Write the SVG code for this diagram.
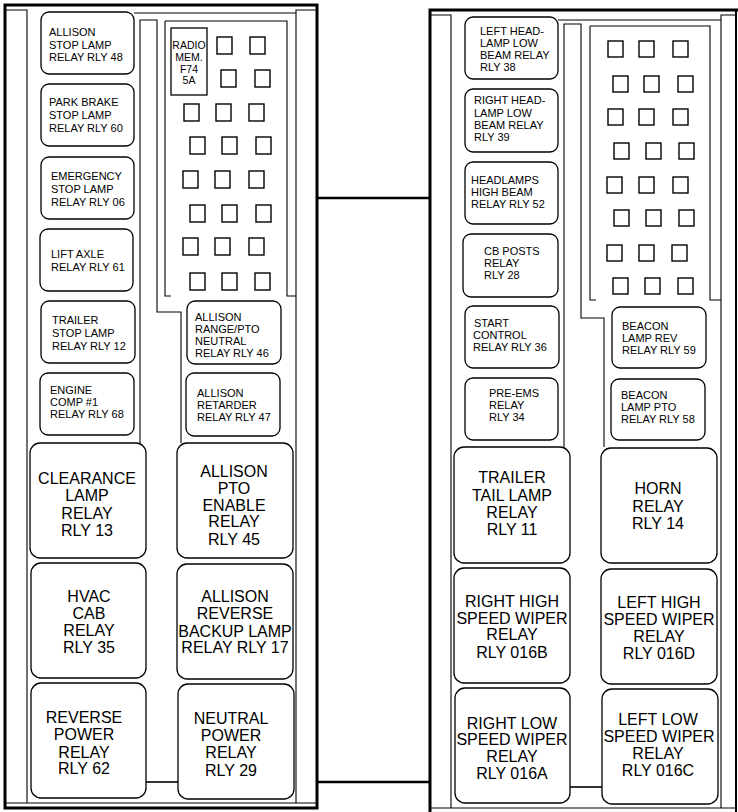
<svg xmlns="http://www.w3.org/2000/svg" width="738" height="812" viewBox="0 0 738 812">
<style>
.bg{fill:#fff}
.frame{fill:none;stroke:#000;stroke-width:3}
.thin{fill:none;stroke:#000;stroke-width:1.1}
.box{fill:#fff;stroke:#000;stroke-width:1.3}
.fuse{fill:#fff;stroke:#000;stroke-width:1.4}
.con{fill:none;stroke:#000;stroke-width:2.4}
.conb{fill:none;stroke:#000;stroke-width:1.6}
text{font-family:"Liberation Sans",Arial,sans-serif;fill:#000}
.s{font-size:11px}
.r{font-size:10.5px;text-anchor:middle}
.b{font-size:16px;text-anchor:middle}
</style>
<defs>
<rect id="fz" width="15" height="17" class="fuse"/>
<rect id="fy" width="15" height="16" class="fuse"/>
</defs>
<rect class="bg" x="0" y="0" width="738" height="812"/>

<g id="left-panel">
<rect class="frame" x="5" y="5" width="312" height="803"/>
<path class="thin" d="M5,803 H317"/>
<path class="thin" d="M5,10 H27 V803"/>
<path class="thin" d="M317,10 H296 V803"/>
<path class="thin" d="M134,13 H296"/>
<path class="thin" d="M140,443 V20 H157 V312 H181 V443"/>
<path class="thin" d="M165,21 V296 H171 M165,21 H287 V296 H296"/>
</g>

<g id="right-panel">
<path class="frame" d="M430,812 V10 H738"/>
<path class="thin" d="M736,10 V812" style="stroke-width:2"/>
<path class="thin" d="M430,808 H736"/>
<path class="thin" d="M430,15 H451 V808"/>
<path class="thin" d="M736,15 H721 V808"/>
<path class="thin" d="M558,20 H721"/>
<path class="thin" d="M564,447 V24 H581 V318 H604 V447"/>
<path class="thin" d="M590,26 V300 H596 M590,26 H710 V300 H721"/>
</g>

<g id="connectors">
<path class="con" d="M317,198 H430"/>
<path class="con" d="M317,782 H430"/>
<path class="conb" d="M146,782 H178"/>
<path class="conb" d="M570,787 H602"/>
</g>

<g id="fuses-left">
<use href="#fz" x="217" y="37"/><use href="#fz" x="250" y="37"/>
<use href="#fz" x="221" y="70"/><use href="#fz" x="255" y="70"/>
<use href="#fz" x="184" y="104"/><use href="#fz" x="216" y="104"/><use href="#fz" x="249" y="104"/>
<use href="#fz" x="190" y="137"/><use href="#fz" x="222" y="137"/><use href="#fz" x="256" y="137"/>
<use href="#fz" x="183" y="171"/><use href="#fz" x="215" y="171"/><use href="#fz" x="249" y="171"/>
<use href="#fz" x="190" y="205"/><use href="#fz" x="222" y="205"/><use href="#fz" x="256" y="205"/>
<use href="#fz" x="183" y="238"/><use href="#fz" x="215" y="238"/><use href="#fz" x="249" y="238"/>
<use href="#fz" x="190" y="273"/><use href="#fz" x="222" y="273"/><use href="#fz" x="255" y="273"/>
</g>

<g id="radio-mem-f74">
<rect class="box" x="171" y="28" width="36" height="67"/>
<text class="r" x="189" y="49">RADIO</text>
<text class="r" x="189" y="61">MEM.</text>
<text class="r" x="189" y="72.5">F74</text>
<text class="r" x="189" y="84">5A</text>
</g>

<g id="fuses-right">
<use href="#fy" x="608" y="41"/><use href="#fy" x="639" y="41"/><use href="#fy" x="673" y="41"/>
<use href="#fy" x="613" y="76"/><use href="#fy" x="644" y="76"/><use href="#fy" x="678" y="76"/>
<use href="#fy" x="608" y="109"/><use href="#fy" x="639" y="109"/><use href="#fy" x="673" y="109"/>
<use href="#fy" x="614" y="143"/><use href="#fy" x="646" y="143"/><use href="#fy" x="679" y="143"/>
<use href="#fy" x="607" y="177"/><use href="#fy" x="639" y="177"/><use href="#fy" x="673" y="177"/>
<use href="#fy" x="614" y="210"/><use href="#fy" x="646" y="210"/><use href="#fy" x="679" y="210"/>
<use href="#fy" x="607" y="245"/><use href="#fy" x="639" y="245"/><use href="#fy" x="672" y="245"/>
<use href="#fy" x="613" y="278"/><use href="#fy" x="645" y="278"/><use href="#fy" x="678" y="278"/>
</g>

<g id="rly48"><rect class="box" x="41" y="12" width="93" height="62" rx="8"/>
<text class="s" x="49" y="36">ALLISON</text><text class="s" x="49" y="48.5">STOP LAMP</text><text class="s" x="49" y="61">RELAY RLY 48</text></g>
<g id="rly60"><rect class="box" x="41" y="84" width="93" height="62" rx="8"/>
<text class="s" x="49" y="106">PARK BRAKE</text><text class="s" x="49" y="119">STOP LAMP</text><text class="s" x="49" y="132">RELAY RLY 60</text></g>
<g id="rly06"><rect class="box" x="41" y="157" width="93" height="62" rx="8"/>
<text class="s" x="51" y="180">EMERGENCY</text><text class="s" x="51" y="192.5">STOP LAMP</text><text class="s" x="51" y="205.5">RELAY RLY 06</text></g>
<g id="rly61"><rect class="box" x="40" y="229" width="93" height="62" rx="8"/>
<text class="s" x="51" y="258">LIFT AXLE</text><text class="s" x="51" y="270.5">RELAY RLY 61</text></g>
<g id="rly12"><rect class="box" x="41" y="301" width="94" height="62" rx="8"/>
<text class="s" x="52" y="324">TRAILER</text><text class="s" x="52" y="337">STOP LAMP</text><text class="s" x="52" y="349.5">RELAY RLY 12</text></g>
<g id="rly68"><rect class="box" x="40" y="373" width="94" height="62" rx="8"/>
<text class="s" x="50" y="394">ENGINE</text><text class="s" x="50" y="406">COMP #1</text><text class="s" x="50" y="418">RELAY RLY 68</text></g>
<g id="rly46"><rect class="box" x="187" y="301" width="94" height="63" rx="8"/>
<text class="s" x="195" y="321">ALLISON</text><text class="s" x="195" y="333">RANGE/PTO</text><text class="s" x="195" y="345">NEUTRAL</text><text class="s" x="195" y="357">RELAY RLY 46</text></g>
<g id="rly47"><rect class="box" x="186" y="373" width="94" height="63" rx="8"/>
<text class="s" x="197" y="397">ALLISON</text><text class="s" x="197" y="409">RETARDER</text><text class="s" x="197" y="421">RELAY RLY 47</text></g>

<g id="rly13"><rect class="box" x="30" y="443" width="116" height="115" rx="10"/>
<text class="b" x="87" y="483.5">CLEARANCE</text><text class="b" x="87" y="501">LAMP</text><text class="b" x="87" y="518.5">RELAY</text><text class="b" x="87" y="536">RLY 13</text></g>
<g id="rly35"><rect class="box" x="31" y="563" width="115" height="115" rx="10"/>
<text class="b" x="89" y="601.5">HVAC</text><text class="b" x="89" y="619">CAB</text><text class="b" x="89" y="636">RELAY</text><text class="b" x="89" y="653">RLY 35</text></g>
<g id="rly62"><rect class="box" x="31" y="683" width="115" height="115" rx="10"/>
<text class="b" x="84" y="723">REVERSE</text><text class="b" x="84" y="740">POWER</text><text class="b" x="84" y="757.5">RELAY</text><text class="b" x="84" y="774">RLY 62</text></g>
<g id="rly45"><rect class="box" x="177" y="443" width="116" height="115" rx="10"/>
<text class="b" x="234" y="476.5">ALLISON</text><text class="b" x="234" y="493.5">PTO</text><text class="b" x="234" y="510.5">ENABLE</text><text class="b" x="234" y="527">RELAY</text><text class="b" x="234" y="544.5">RLY 45</text></g>
<g id="rly17"><rect class="box" x="177" y="564" width="116" height="115" rx="10"/>
<text class="b" x="235" y="601.5">ALLISON</text><text class="b" x="235" y="619">REVERSE</text><text class="b" x="235" y="636.5">BACKUP LAMP</text><text class="b" x="235" y="653">RELAY RLY 17</text></g>
<g id="rly29"><rect class="box" x="178" y="684" width="116" height="115" rx="10"/>
<text class="b" x="231" y="723.5">NEUTRAL</text><text class="b" x="231" y="740.5">POWER</text><text class="b" x="231" y="757.5">RELAY</text><text class="b" x="231" y="775.5">RLY 29</text></g>

<g id="rly38"><rect class="box" x="465" y="17" width="93" height="62" rx="8"/>
<text class="s" x="480" y="35">LEFT HEAD-</text><text class="s" x="480" y="47">LAMP LOW</text><text class="s" x="480" y="59">BEAM RELAY</text><text class="s" x="480" y="71">RLY 38</text></g>
<g id="rly39"><rect class="box" x="465" y="89" width="93" height="63" rx="8"/>
<text class="s" x="474" y="104">RIGHT HEAD-</text><text class="s" x="474" y="116.5">LAMP LOW</text><text class="s" x="474" y="129">BEAM RELAY</text><text class="s" x="474" y="141">RLY 39</text></g>
<g id="rly52"><rect class="box" x="465" y="162" width="93" height="62" rx="8"/>
<text class="s" x="471" y="184">HEADLAMPS</text><text class="s" x="471" y="196">HIGH BEAM</text><text class="s" x="471" y="208">RELAY RLY 52</text></g>
<g id="rly28"><rect class="box" x="463" y="234" width="95" height="63" rx="8"/>
<text class="s" x="484" y="255">CB POSTS</text><text class="s" x="484" y="267">RELAY</text><text class="s" x="484" y="279">RLY 28</text></g>
<g id="rly36"><rect class="box" x="465" y="306" width="94" height="62" rx="8"/>
<text class="s" x="474" y="327">START</text><text class="s" x="473" y="339">CONTROL</text><text class="s" x="473" y="351">RELAY RLY 36</text></g>
<g id="rly34"><rect class="box" x="465" y="378" width="93" height="62" rx="8"/>
<text class="s" x="489" y="397">PRE-EMS</text><text class="s" x="489" y="409">RELAY</text><text class="s" x="489" y="421">RLY 34</text></g>
<g id="rly59"><rect class="box" x="612" y="307" width="94" height="61" rx="8"/>
<text class="s" x="622" y="330">BEACON</text><text class="s" x="622" y="342">LAMP REV</text><text class="s" x="622" y="354">RELAY RLY 59</text></g>
<g id="rly58"><rect class="box" x="611" y="379" width="94" height="61" rx="8"/>
<text class="s" x="621" y="399">BEACON</text><text class="s" x="621" y="411">LAMP PTO</text><text class="s" x="621" y="423">RELAY RLY 58</text></g>

<g id="rly11"><rect class="box" x="454" y="447" width="116" height="116" rx="10"/>
<text class="b" x="512" y="483">TRAILER</text><text class="b" x="512" y="500.5">TAIL LAMP</text><text class="b" x="512" y="517.5">RELAY</text><text class="b" x="512" y="535">RLY 11</text></g>
<g id="rly14"><rect class="box" x="601" y="448" width="116" height="115" rx="10"/>
<text class="b" x="658" y="494">HORN</text><text class="b" x="658" y="511.5">RELAY</text><text class="b" x="658" y="529">RLY 14</text></g>
<g id="rly016b"><rect class="box" x="454" y="568" width="116" height="115" rx="10"/>
<text class="b" x="512" y="607">RIGHT HIGH</text><text class="b" x="512" y="624">SPEED WIPER</text><text class="b" x="512" y="640">RELAY</text><text class="b" x="512" y="657.5">RLY 016B</text></g>
<g id="rly016d"><rect class="box" x="601" y="569" width="116" height="115" rx="10"/>
<text class="b" x="659" y="608">LEFT HIGH</text><text class="b" x="659" y="625">SPEED WIPER</text><text class="b" x="659" y="641.5">RELAY</text><text class="b" x="659" y="658.5">RLY 016D</text></g>
<g id="rly016a"><rect class="box" x="455" y="688" width="115" height="115" rx="10"/>
<text class="b" x="512" y="728.5">RIGHT LOW</text><text class="b" x="512" y="745">SPEED WIPER</text><text class="b" x="512" y="762">RELAY</text><text class="b" x="512" y="779">RLY 016A</text></g>
<g id="rly016c"><rect class="box" x="602" y="689" width="116" height="115" rx="10"/>
<text class="b" x="658" y="725">LEFT LOW</text><text class="b" x="659" y="741.5">SPEED WIPER</text><text class="b" x="658" y="758.5">RELAY</text><text class="b" x="658" y="775.5">RLY 016C</text></g>
</svg>
